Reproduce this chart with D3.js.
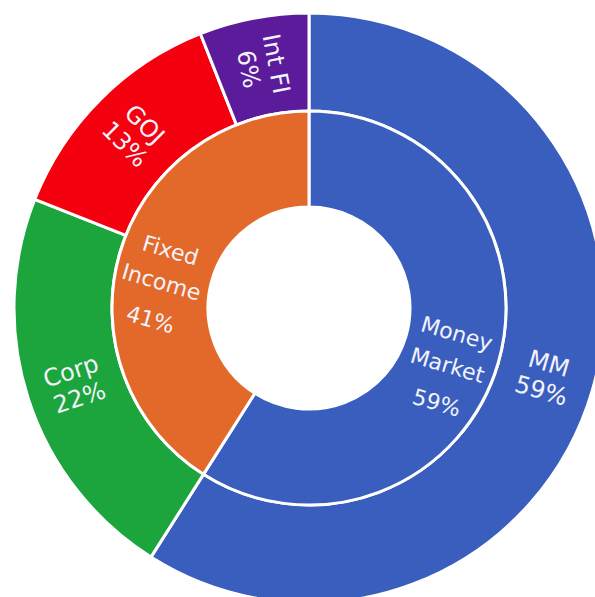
<!DOCTYPE html>
<html>
<head>
<meta charset="utf-8">
<script src="https://cdn.jsdelivr.net/npm/d3@7"></script>
<style>
    body { margin: 0; background: #ffffff; }
    svg { display: block; }
</style>
</head>
<body>
<svg id="chart" width="595" height="597"></svg>
<script>
// Inner ring: asset class
const innerNames = ["Money Market", "Fixed Income"];
const innerValues = [59, 41];

// Outer ring: holdings
const outerNames = ["MM", "Corp", "GOJ", "Int FI"];
const outerValues = [59, 22, 13, 6];

const innerColors = ["#3a5ebd", "#e3692a"];
const outerColors = ["#3a5ebd", "#1ba53c", "#f5000f", "#5c1b9b"];

const svg = d3.select("#chart");
const cx = 309, cy = 308;
const rHole = 101, rMid = 197, rOuter = 295;

const g = svg.append("g")
    .attr("transform", `translate(${cx}, ${cy})`);

const pie = d3.pie().sort(null).value(d => d.value);

const innerData = pie(innerNames.map((n, i) => ({ name: n, value: innerValues[i] })));
const outerData = pie(outerNames.map((n, i) => ({ name: n, value: outerValues[i] })));

const innerArc = d3.arc().innerRadius(rHole).outerRadius(rMid);
const outerArc = d3.arc().innerRadius(rMid).outerRadius(rOuter);

function drawRing(data, arc, colors) {
    g.append("g")
        .selectAll("path")
        .data(data)
        .enter()
        .append("path")
            .attr("d", arc)
            .attr("fill", (d, i) => colors[i])
            .attr("stroke", "#ffffff")
            .attr("stroke-width", 3)
            .attr("stroke-linejoin", "round");
}

drawRing(outerData, outerArc, outerColors);
drawRing(innerData, innerArc, innerColors);

// text turned along the radius, never upside down
function rotation(d) {
    const a = (d.startAngle + d.endAngle) / 2 * 180 / Math.PI;
    return a > 180 ? a - 270 : a - 90;
}

// lastGap = extra space before the percent line
function drawLabels(data, arc, lines, size, step, shift, lastGap) {
    const labels = g.append("g")
        .selectAll("text")
        .data(data)
        .enter()
        .append("text")
            .attr("transform", d => {
                const c = arc.centroid(d);
                return `translate(${c[0]}, ${c[1]}) rotate(${rotation(d)})`;
            })
            .attr("text-anchor", "middle")
            .style("font-family", "'DejaVu Sans', sans-serif")
            .style("font-size", size + "px")
            .style("fill", "#f3f3fb");

    labels.each(function(d) {
        const parts = lines(d);
        const t = d3.select(this);
        const total = (parts.length - 1) * step;
        parts.forEach((p, i) => {
            const extra = (i == parts.length - 1) ? lastGap : 0;
            t.append("tspan")
                .attr("x", 0)
                .attr("y", -total / 2 + i * step + size * 0.36 + shift + extra)
                .text(p);
        });
    });
}

drawLabels(innerData, innerArc,
    d => d.data.name.split(" ").concat([d.data.value + "%"]), 22, 33, 16, 6);
drawLabels(outerData, outerArc,
    d => [d.data.name, d.data.value + "%"], 24, 28, 0, 0);
</script>
</body>
</html>
